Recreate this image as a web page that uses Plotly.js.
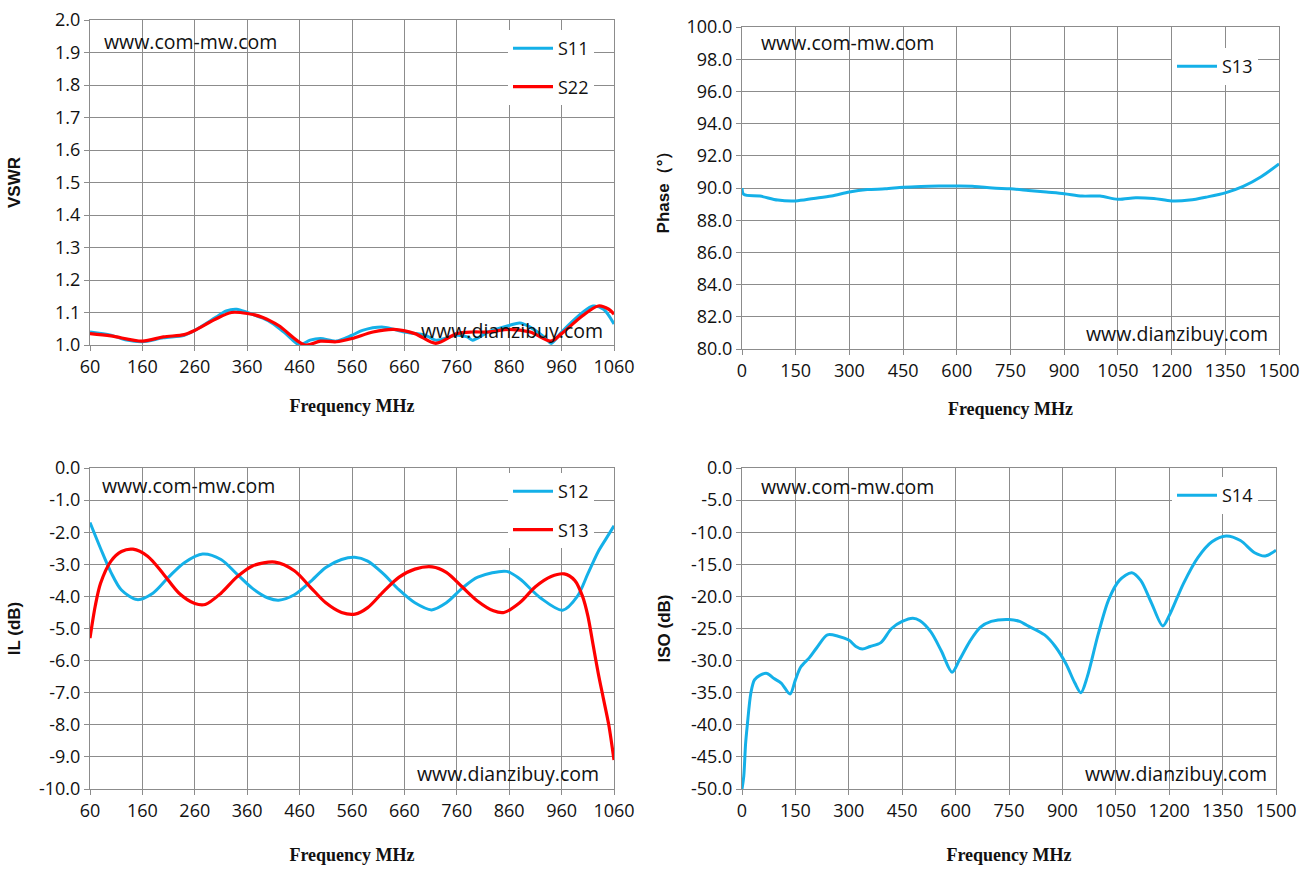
<!DOCTYPE html>
<html>
<head>
<meta charset="utf-8">
<script src="https://cdn.plot.ly/plotly-3.0.1.min.js"></script>
<style>
  html, body { margin: 0; padding: 0; background: #fff; }
  #chart { width: 1306px; height: 870px; }
</style>
</head>
<body>
<div id="chart"></div>
<script>
// VSWR (top left)
const vswrFreqS11 = [60, 100, 130, 160, 200, 240, 260, 300, 320, 340, 360, 400, 430, 460, 480, 500, 530, 560, 580, 620, 660, 700, 720, 760, 780, 790, 820, 860, 880, 900, 930, 940, 960, 1000, 1020, 1040, 1060];
const vswrS11 = [1.04, 1.03, 1.015, 1.01, 1.022, 1.03, 1.045, 1.085, 1.105, 1.11, 1.10, 1.075, 1.04, 1.0, 1.015, 1.02, 1.012, 1.03, 1.045, 1.055, 1.04, 1.03, 1.015, 1.03, 1.025, 1.015, 1.04, 1.06, 1.068, 1.055, 1.02, 1.005, 1.04, 1.10, 1.12, 1.11, 1.065];
const vswrFreqS22 = [60, 100, 160, 200, 240, 260, 300, 330, 360, 390, 420, 470, 500, 530, 560, 600, 640, 680, 720, 760, 790, 820, 860, 900, 940, 960, 1000, 1030, 1050, 1060];
const vswrS22 = [1.035, 1.028, 1.012, 1.025, 1.032, 1.045, 1.08, 1.10, 1.097, 1.085, 1.06, 1.0, 1.012, 1.01, 1.02, 1.04, 1.048, 1.035, 1.005, 1.035, 1.04, 1.04, 1.048, 1.04, 1.012, 1.035, 1.09, 1.12, 1.11, 1.095];

// Phase (top right)
const phaseFreq = [0, 5, 50, 100, 150, 200, 250, 300, 350, 400, 450, 500, 550, 600, 650, 700, 750, 800, 850, 900, 950, 1000, 1050, 1100, 1150, 1200, 1250, 1300, 1350, 1400, 1450, 1500];
const phaseS13 = [90.0, 89.6, 89.5, 89.25, 89.2, 89.35, 89.5, 89.75, 89.9, 89.95, 90.05, 90.1, 90.12, 90.12, 90.1, 90.0, 89.95, 89.85, 89.75, 89.65, 89.5, 89.5, 89.3, 89.4, 89.35, 89.2, 89.25, 89.45, 89.7, 90.1, 90.7, 91.5];

// IL (bottom left)
const ilFreqS12 = [60, 80, 100, 120, 150, 180, 210, 240, 275, 310, 340, 370, 400, 420, 450, 480, 510, 540, 565, 590, 620, 650, 680, 712, 740, 770, 800, 855, 880, 920, 962, 990, 1010, 1030, 1045, 1060];
const ilS12 = [-1.7, -2.5, -3.25, -3.8, -4.1, -3.9, -3.4, -2.95, -2.68, -2.85, -3.3, -3.75, -4.05, -4.12, -3.95, -3.55, -3.1, -2.85, -2.78, -2.9, -3.3, -3.8, -4.2, -4.42, -4.2, -3.75, -3.4, -3.22, -3.45, -4.05, -4.43, -4.0, -3.3, -2.6, -2.2, -1.8];
const ilFreqS13 = [60, 70, 80, 100, 120, 142, 170, 200, 230, 260, 280, 310, 340, 370, 413, 450, 480, 510, 540, 566, 590, 620, 650, 680, 713, 740, 770, 800, 830, 850, 880, 910, 940, 965, 985, 1000, 1010, 1020, 1030, 1040, 1050, 1060];
const ilS13 = [-5.3, -4.3, -3.6, -2.9, -2.6, -2.53, -2.75, -3.3, -3.9, -4.22, -4.25, -3.9, -3.4, -3.05, -2.93, -3.2, -3.7, -4.2, -4.5, -4.55, -4.35, -3.85, -3.4, -3.15, -3.08, -3.25, -3.7, -4.15, -4.45, -4.5, -4.2, -3.7, -3.38, -3.3, -3.5, -4.0, -4.6, -5.5, -6.4, -7.2, -8.0, -9.1];

// ISO (bottom right)
const isoFreq = [0, 5, 10, 15, 25, 35, 50, 70, 90, 110, 135, 150, 165, 190, 210, 240, 270, 300, 320, 338, 360, 390, 420, 450, 480, 500, 530, 560, 590, 610, 640, 670, 700, 750, 780, 800, 850, 880, 910, 935, 952, 970, 1000, 1030, 1060, 1095, 1120, 1150, 1182, 1200, 1240, 1280, 1320, 1360, 1400, 1440, 1470, 1500];
const isoS14 = [-50, -48, -43, -40, -35, -33, -32.3, -32, -32.8, -33.5, -35.2, -33, -31, -29.5, -28, -26, -26.2, -26.8, -27.8, -28.2, -27.8, -27.2, -25, -23.9, -23.4, -23.8, -25.5, -28.5, -31.8, -30, -27, -24.8, -23.9, -23.6, -23.9, -24.5, -26, -27.8, -30.5, -33.5, -35, -32.5, -26, -20.5, -17.5, -16.3, -17.5, -21, -24.6, -23, -18, -14, -11.5, -10.6, -11.3, -13.2, -13.7, -12.8];

// tick labels
const leftXTicks = [60, 160, 260, 360, 460, 560, 660, 760, 860, 960, 1060];
const rightXTicks = [0, 150, 300, 450, 600, 750, 900, 1050, 1200, 1350, 1500];
const vswrTicks = [1.0, 1.1, 1.2, 1.3, 1.4, 1.5, 1.6, 1.7, 1.8, 1.9, 2.0];
const phaseTicks = [80, 82, 84, 86, 88, 90, 92, 94, 96, 98, 100];
const ilTicks = [0, -1, -2, -3, -4, -5, -6, -7, -8, -9, -10];
const isoTicks = [0, -5, -10, -15, -20, -25, -30, -35, -40, -45, -50];

const BLUE = '#14b0e8';
const RED = '#ff0000';
const GRID = '#8c8c8c';
const W = 1306, H = 870;
const px = v => v / W;
const py = v => 1 - v / H;

const tickFont = { family: 'Open Sans, sans-serif', size: 18, color: '#111' };
const xTitleFont = { family: 'Liberation Serif, DejaVu Serif, serif', size: 18, color: '#111', weight: 'bold' };
const yTitleFont = { family: 'Liberation Sans, Arial, sans-serif', size: 17, color: '#111', weight: 'bold' };

function line(x, y, name, color, xa, ya, leg, w) {
  return {
    x: x, y: y, name: name, type: 'scatter', mode: 'lines',
    line: { color: color, width: w || 3, shape: 'spline', smoothing: 0.85 },
    xaxis: xa, yaxis: ya, legend: leg, legendgroup: name + leg,
    hoverinfo: 'skip'
  };
}

function xAxis(ticks, domain, anchor, range, standoff) {
  return {
    domain: domain, anchor: anchor, range: range,
    tickmode: 'array', tickvals: ticks, ticktext: ticks.map(String),
    showgrid: true, gridcolor: GRID, gridwidth: 1,
    showline: true, linecolor: GRID, linewidth: 1, mirror: true,
    ticks: 'outside', ticklen: 5, tickcolor: GRID,
    tickfont: tickFont, zeroline: false,
    title: { text: 'Frequency MHz', font: xTitleFont, standoff: standoff }
  };
}

function yAxis(ticks, domain, anchor, range, title, standoff) {
  return {
    domain: domain, anchor: anchor, range: range,
    tickmode: 'array', tickvals: ticks, ticktext: ticks.map(v => v.toFixed(1)),
    showgrid: true, gridcolor: GRID, gridwidth: 1,
    showline: true, linecolor: GRID, linewidth: 1, mirror: true,
    ticks: 'outside', ticklen: 5, tickcolor: GRID,
    tickfont: tickFont, zeroline: false,
    title: { text: title, font: yTitleFont, standoff: standoff }
  };
}

const traces = [
  line(vswrFreqS11, vswrS11, 'S11', BLUE, 'x', 'y', 'legend'),
  line(vswrFreqS22, vswrS22, 'S22', RED, 'x', 'y', 'legend', 3.2),
  line(phaseFreq, phaseS13, 'S13', BLUE, 'x2', 'y2', 'legend2'),
  line(ilFreqS12, ilS12, 'S12', BLUE, 'x3', 'y3', 'legend3'),
  line(ilFreqS13, ilS13, 'S13', RED, 'x3', 'y3', 'legend3', 3.2),
  line(isoFreq, isoS14, 'S14', BLUE, 'x4', 'y4', 'legend4')
];

const dLeftX = [px(90), px(614)];
const dRightX = [px(742), px(1279)];
const dRightX2 = [px(742), px(1276)];
const dTopY = [py(345), py(20)];
const dTopY2 = [py(349), py(27)];
const dBotY = [py(789), py(468)];

function legendBox(x, y) {
  return {
    x: px(x), y: py(y), xanchor: 'left', yanchor: 'top',
    bgcolor: '#ffffff', borderwidth: 0,
    font: { family: 'Open Sans, sans-serif', size: 18, color: '#111' },
    tracegroupgap: 12, itemwidth: 40
  };
}

function note(text, x, y) {
  return {
    text: text, xref: 'paper', yref: 'paper', x: px(x), y: py(y),
    xanchor: 'left', yanchor: 'middle', showarrow: false,
    font: { family: 'Open Sans, sans-serif', size: 19.5, color: '#111' },
    bgcolor: 'rgba(0,0,0,0)'
  };
}

const layout = {
  width: W, height: H,
  margin: { l: 0, r: 0, t: 0, b: 0 },
  paper_bgcolor: '#ffffff', plot_bgcolor: '#ffffff',
  xaxis: xAxis(leftXTicks, dLeftX, 'y', [60, 1060], 22),
  yaxis: yAxis(vswrTicks, dTopY, 'x', [1.0, 2.0], 'VSWR', 30),
  xaxis2: xAxis(rightXTicks, dRightX, 'y2', [0, 1500], 21),
  yaxis2: yAxis(phaseTicks, dTopY2, 'x2', [80, 100], 'Phase（°）', 12),
  xaxis3: xAxis(leftXTicks, dLeftX, 'y3', [60, 1060], 27),
  yaxis3: yAxis(ilTicks, dBotY, 'x3', [-10, 0], 'IL (dB)', 14),
  xaxis4: xAxis(rightXTicks, dRightX2, 'y4', [0, 1500], 27),
  yaxis4: yAxis(isoTicks, dBotY, 'x4', [-50, 0], 'ISO (dB)', 16),
  showlegend: true,
  legend: legendBox(508, 30),
  legend2: legendBox(1172, 48),
  legend3: legendBox(508, 473),
  legend4: legendBox(1172, 477),
  annotations: [
    note('www.com-mw.com', 102, 41),
    note('www.com-mw.com', 759, 43),
    note('www.com-mw.com', 100, 485),
    note('www.com-mw.com', 759, 486),
    note('www.dianzibuy.com', 419, 330),
    note('www.dianzibuy.com', 1084, 334),
    note('www.dianzibuy.com', 415, 773),
    note('www.dianzibuy.com', 1083, 773)
  ]
};

Plotly.newPlot('chart', traces, layout, { staticPlot: true, displayModeBar: false });
</script>
</body>
</html>
